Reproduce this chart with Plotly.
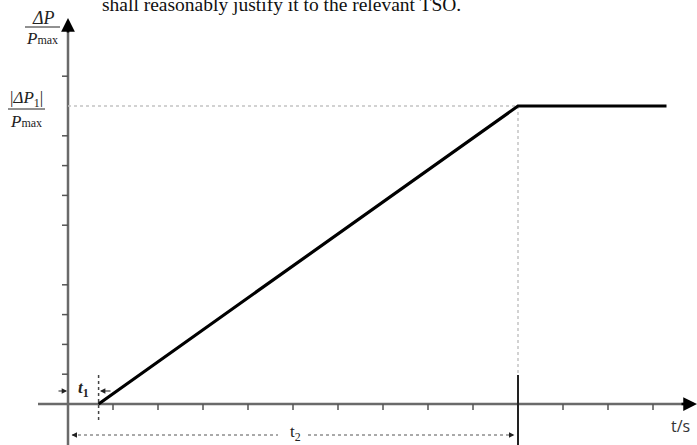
import plotly.graph_objects as go

# ---- data (in tick units) ----
t1 = 0.68            # start of ramp
t2 = 10.0            # end of ramp
dp1 = 10.0           # |dP1|/Pmax level
t_flat_end = 13.3    # end of plateau
x_ticks = [1, 2, 3, 4, 5, 6, 7, 8, 9, 10, 11, 12, 13]
y_ticks = [1, 2, 3, 4, 6, 7, 8, 9, 11]

X0, Y0 = 68, 404          # pixel origin
SX, SY = 45.0, 29.8       # px per unit
W, H = 697, 445

def ux(px):  # pixel -> data x
    return (px - X0) / SX

def uy(py):  # pixel -> data y
    return (Y0 - py) / SY

fig = go.Figure()

AX = "#6a6a6a"

# axes lines
fig.add_trace(go.Scatter(x=[ux(38), ux(690)], y=[0, 0], mode="lines",
                         line=dict(color=AX, width=2.5), hoverinfo="skip"))
fig.add_trace(go.Scatter(x=[0, 0], y=[uy(445), uy(26)], mode="lines",
                         line=dict(color=AX, width=2.5), hoverinfo="skip"))

# tick marks
tx, ty = [], []
for t in x_ticks:
    tx += [t, t, None]
    ty += [0, -6 / SY, None]
fig.add_trace(go.Scatter(x=tx, y=ty, mode="lines", line=dict(color="#555", width=1.5),
                         hoverinfo="skip"))
yx, yy = [], []
for t in y_ticks:
    yx += [0, -6 / SX, None]
    yy += [t, t, None]
fig.add_trace(go.Scatter(x=yx, y=yy, mode="lines", line=dict(color="#555", width=1.5),
                         hoverinfo="skip"))

# dotted guide lines
fig.add_trace(go.Scatter(x=[0, t2], y=[dp1, dp1], mode="lines",
                         line=dict(color="#c4c4c4", width=1.5, dash="dot"), hoverinfo="skip"))
fig.add_trace(go.Scatter(x=[t2, t2], y=[dp1, uy(375)], mode="lines",
                         line=dict(color="#c4c4c4", width=1.5, dash="dot"), hoverinfo="skip"))

# t2 solid vertical marker
fig.add_trace(go.Scatter(x=[t2, t2], y=[uy(375), uy(445)], mode="lines",
                         line=dict(color="#222", width=2), hoverinfo="skip"))
# t1 dashed vertical marker
fig.add_trace(go.Scatter(x=[t1, t1], y=[uy(375), uy(420)], mode="lines",
                         line=dict(color="#444", width=1.5, dash="dot"), hoverinfo="skip"))

# t2 dimension line (dashed, gap for label)
dim_y = uy(435)
fig.add_trace(go.Scatter(x=[ux(72), ux(278), None, ux(308), ux(510)],
                         y=[dim_y, dim_y, None, dim_y, dim_y], mode="lines",
                         line=dict(color="#555", width=1, dash="dot"), hoverinfo="skip"))

# main curve: ramp then plateau
fig.add_trace(go.Scatter(x=[t1, t2, t_flat_end], y=[0, dp1, dp1], mode="lines",
                         line=dict(color="black", width=3.2), hoverinfo="skip"))

ann = []
def arrow(x, y, ax, ay, size=0.8, width=1.5, color="#222"):
    ann.append(dict(x=x, y=y, ax=ax, ay=ay, xref="x", yref="y", axref="x", ayref="y",
                    showarrow=True, arrowhead=2, arrowsize=size, arrowwidth=width,
                    arrowcolor=color, text=""))

# axis arrowheads
arrow(ux(697), 0, ux(680), 0, size=1.1, width=2.5, color="black")
arrow(0, uy(18), 0, uy(34), size=1.1, width=2.5, color="black")
# t1 arrows
arrow(-0.02, uy(391), ux(57), uy(391), size=0.9, width=1.2)
arrow(t1 + 0.03, uy(391), ux(112), uy(391), size=0.9, width=1.2)
# t2 dimension arrows
arrow(0.08, dim_y, ux(76), dim_y, size=0.9, width=1.2)
arrow(t2 - 0.08, dim_y, ux(510), dim_y, size=0.9, width=1.2)

def text(x, y, s, size, family="Liberation Serif", color="#222", xanchor="center", yanchor="middle", xref="x", yref="y"):
    ann.append(dict(x=x, y=y, xref=xref, yref=yref, text=s, showarrow=False,
                    font=dict(size=size, family=family, color=color),
                    xanchor=xanchor, yanchor=yanchor))

text(ux(83), uy(389), "<b><i>t</i></b><sub><b>1</b></sub>", 17)
text(ux(295), uy(433), "t<sub>2</sub>", 17)
text(ux(680), uy(426), "t/s", 16, family="Open Sans", color="#333")

# y-axis labels (fractions)
text(ux(43), uy(18), "<i>ΔP</i>", 18)
text(ux(42), uy(38), "<i>P</i><span style='font-size:12px'>max</span>", 17)
text(ux(26), uy(99), "|<i>ΔP</i><sub>1</sub>|", 17)
text(ux(26), uy(121), "<i>P</i><span style='font-size:12px'>max</span>", 17)

# clipped running text at the top
text(ux(100), uy(4), "shall reasonably justify it to the relevant TSO.", 19.5,
     family="Liberation Serif", color="#111", xanchor="left")

shapes = [
    dict(type="line", xref="x", yref="y", x0=ux(25), x1=ux(60), y0=uy(27), y1=uy(27),
         line=dict(color="#222", width=1)),
    dict(type="line", xref="x", yref="y", x0=ux(8), x1=ux(45), y0=uy(109), y1=uy(109),
         line=dict(color="#222", width=1)),
]

fig.update_layout(
    width=W, height=H, margin=dict(l=0, r=0, t=0, b=0),
    paper_bgcolor="white", plot_bgcolor="white", showlegend=False,
    xaxis=dict(range=[ux(0), ux(W)], visible=False, fixedrange=True),
    yaxis=dict(range=[uy(H), uy(0)], visible=False, fixedrange=True),
    annotations=ann, shapes=shapes,
)
fig.write_html("out.html", config={"displayModeBar": False},
               post_script="document.body.style.margin='0';document.body.style.overflow='hidden';")
